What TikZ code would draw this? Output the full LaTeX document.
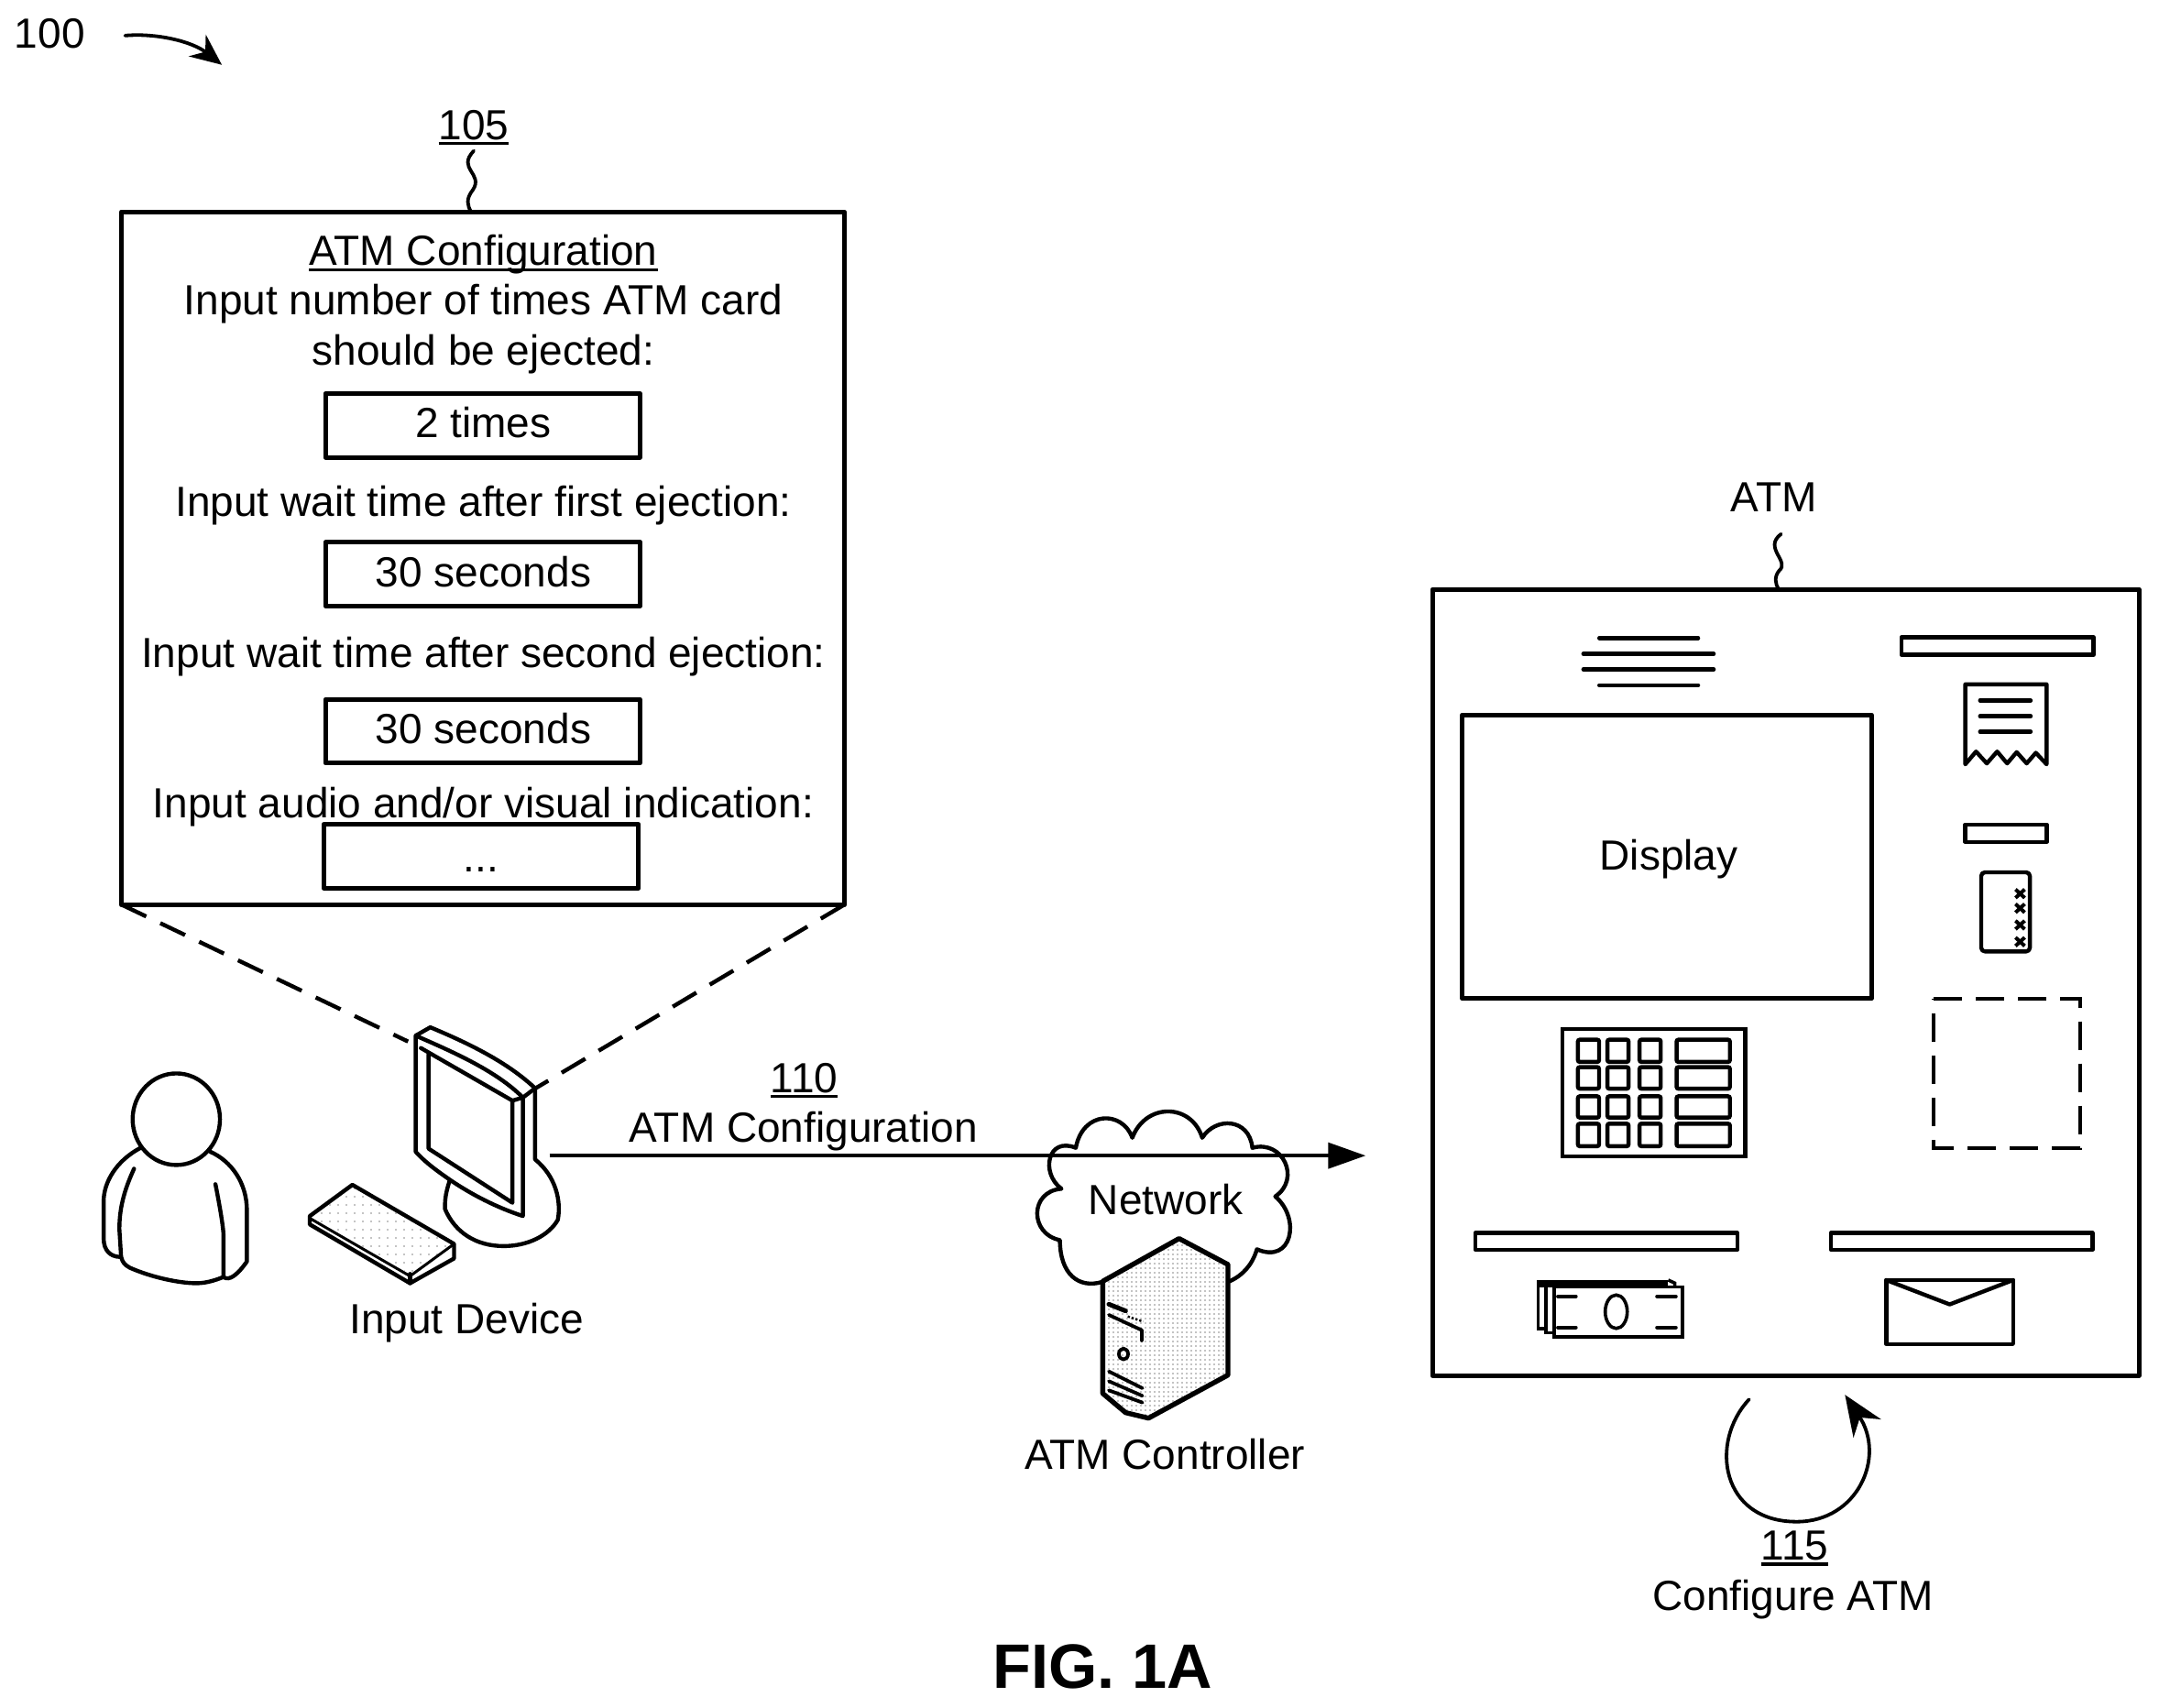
\documentclass[tikz,border=0pt]{standalone}
\usepackage{fontspec}
\setmainfont{Liberation Sans}
\usetikzlibrary{arrows.meta,patterns.meta}
\newcommand\ull[1]{\setbox0\hbox{#1}\rlap{\rule[-6pt]{\wd0}{3.2pt}}\box0}
\tikzset{
  lbl/.style={font=\fontsize{46}{50}\selectfont,inner sep=0pt,anchor=base},
  thick line/.style={line width=5pt,line join=round},
  med line/.style={line width=4.4pt,line join=round,line cap=round},
  thin line/.style={line width=3.8pt,line join=round,line cap=round},
  dash line/.style={line width=4.4pt,dash pattern=on 30pt off 17pt},
  stipple/.style={pattern={Dots[distance=5pt,radius=.7pt]}},
  sparse stipple/.style={pattern={Dots[distance=9pt,radius=.6pt]}},
  key/.style={rounded corners=2pt,line width=4.4pt}
}
\begin{document}
\begin{tikzpicture}[x=1pt,y=-1pt,scale=.9962]
\useasboundingbox (0,0) rectangle (2365,1871.1);
% top-left
\node[lbl] (n100) at (54.5,53) {100};
\coordinate (a100s) at (137,39);
\coordinate (a100e) at (243,71);
\draw[thin line,-{Stealth[length=34pt,width=30pt]}] (a100s) .. controls (170,36) and (210,45) .. (a100e);
% 105 box
\node[lbl] (n105) at (519,153) {\ull{105}};
\coordinate (box105) at (133,232);
\draw[thick line] (box105) rectangle (925,991);
\coordinate (boxtop) at (516,232);
\draw[thin line] (n105.south) ++(0,6) .. controls (500,185) and (530,190) .. (518,208) .. controls (510,218) and (512,225) .. (boxtop);
\node[lbl] (t0) at (529.5,291) {\ull{ATM Configuration}};
\node[lbl] (t1) at (529.5,345) {Input number of times ATM card};
\node[lbl] (t2) at (529.5,400) {should be ejected:};
\node[lbl] (t3) at (529.5,566) {Input wait time after first ejection:};
\node[lbl] (t4) at (529.5,731) {Input wait time after second ejection:};
\node[lbl] (t5) at (529.5,896) {Input audio and/or visual indication:};
\draw[thick line] (356.5,431) rectangle (701,501);
\draw[thick line] (356.5,594) rectangle (701,664);
\draw[thick line] (356.5,766) rectangle (701,836);
\draw[thick line] (354.5,903) rectangle (699.5,973);
\node[lbl] (v1) at (529.5,479) {2 times};
\node[lbl] (v2) at (529.5,643) {30 seconds};
\node[lbl] (v3) at (529.5,815) {30 seconds};
\node[lbl] (v4) at (527,955) {...};
% dashed
\coordinate (bl) at (133,991);
\coordinate (br) at (925,991);
\coordinate (ml) at (447,1141);
\coordinate (mr) at (587,1192);
\draw[dash line] (bl) -- (ml);
\draw[dash line] (br) -- (mr);
% person, keyboard, monitor
\begin{scope}[shift={(81,1082)},x=.3827pt,y=-.339pt]
 \draw[med line] (293,425) ellipse [x radius=125,y radius=148];
 \draw[med line] (190,518) .. controls (120,560) and (85,630) .. (85,690) -- (85,810) .. controls (85,850) and (105,870) .. (133,870);
 \draw[med line] (172,585) .. controls (150,640) and (130,700) .. (130,780) -- (135,870) .. controls (140,890) and (145,895) .. (160,905) .. controls (220,935) and (300,955) .. (350,955) .. controls (380,955) and (405,945) .. (428,935);
 \draw[med line] (405,635) .. controls (420,720) and (428,780) .. (428,800) -- (428,935) .. controls (445,950) and (470,925) .. (495,885) -- (495,720) .. controls (495,630) and (450,560) .. (390,530);
 % monitor
 \draw[med line] (1075,625) .. controls (1062,670) and (1062,690) .. (1062,715) .. controls (1090,790) and (1150,835) .. (1230,835) .. controls (1300,835) and (1360,800) .. (1385,750) .. controls (1395,690) and (1380,610) .. (1320,555) -- (1320,325) .. controls (1240,240) and (1130,180) .. (1020,128) -- (978,155) -- (978,530) .. controls (1010,570) and (1050,600) .. (1075,620) .. controls (1140,670) and (1210,710) .. (1285,738) -- (1285,355) .. controls (1210,270) and (1090,210) .. (978,155);
 \draw[med line] (1285,355) -- (1320,325);
 \draw[med line] (993,195) -- (1255,365) -- (1285,355);
 \draw[med line] (1255,365) -- (1255,695) -- (1015,520) -- (1015,215);
 % keyboard
 \fill[sparse stipple] (675,738) -- (797,637) -- (1088,828) -- (962,925) -- cycle;
 \draw[med line] (675,738) -- (797,637) -- (1088,828) -- (1088,875) -- (962,955) -- (675,765) -- cycle;
 \draw[line width=3pt,line join=round] (675,745) -- (962,932) -- (1088,828);
 \draw[med line] (962,925) -- (962,955);
\end{scope}
\node[lbl] (inp) at (511,1461) {Input Device};
% cloud
\begin{scope}[shift={(1114.2,1204.6)},x=.3346pt,y=-.3346pt]
 \draw[med line] (278,597) .. controls (200,620) and (140,570) .. (140,460)
   .. controls (40,440) and (40,300) .. (145,292)
   .. controls (75,240) and (100,120) .. (192,158)
   .. controls (215,35) and (345,35) .. (377,125)
   .. controls (420,10) and (570,10) .. (606,125)
   .. controls (650,55) and (760,60) .. (770,158)
   .. controls (870,130) and (930,260) .. (845,317)
   .. controls (930,390) and (900,540) .. (785,490)
   .. controls (770,540) and (740,575) .. (695,595);
\end{scope}
% server
\begin{scope}[shift={(1104.2,1184.5)},x=.3346pt,y=-.3346pt]
 \fill[white] (310,655) -- (560,515) -- (720,600) -- (720,962) -- (460,1103) -- (385,1085) -- (310,1022) -- cycle;
 \fill[stipple] (310,655) -- (560,515) -- (720,600) -- (720,962) -- (460,1103) -- (385,1085) -- (310,1022) -- cycle;
 \draw[line width=5.4pt,line join=round] (310,655) -- (560,515) -- (720,600) -- (720,962) -- (460,1103) -- (385,1085) -- (310,1022) -- cycle;
 \draw[line width=5pt,line cap=round] (330,730) -- (385,752);
 \draw[thin line] (330,765) -- (438,815) -- (438,850);
 \draw[line width=2.4pt,dotted] (392,770) -- (442,787);
 \draw[thin line] (378,893) ellipse [x radius=15,y radius=18];
 \draw[thin line] (330,950) -- (440,1005);
 \draw[thin line] (330,982) -- (440,1030);
 \draw[thin line] (330,1012) -- (440,1052);
\end{scope}
\node[lbl] (net) at (1277,1331) {Network};
\node[lbl] (ctl) at (1276,1610) {ATM Controller};
% arrow 110
\coordinate (arrs) at (602,1266);
\coordinate (arre) at (1496,1266);
\draw[line width=3.8pt,-{Triangle[length=41pt,width=28pt]}] (arrs) -- (arre);
\node[lbl] (n110) at (881,1197) {\ull{110}};
\node[lbl] (t110) at (880,1251) {ATM Configuration};
% ATM
\node[lbl] (natm) at (1943,561) {ATM};
\coordinate (atmtop) at (1948,645);
\draw[thin line] (1951,585) .. controls (1931,600) and (1961,615) .. (1949,625) .. controls (1943,632) and (1945,640) .. (atmtop);
\draw[thick line] (1569,645.5) rectangle (2343,1507);
\draw[thick line] (1602,783) rectangle (2050,1094);
\node[lbl] (disp) at (1828,953) {Display};
\begin{scope}[shift={(1682,664)},x=.4367pt,y=-.3333pt]
 \foreach \y/\a/\b in {105/160/408,157/120/447,208/120/447,260/160/408}
  \draw[line width=4.4pt,line cap=round] (\a,\y) -- (\b,\y);
 \draw[med line] (918,103) rectangle (1400,160);
 \draw[med line] (1078,520) -- (1078,257) -- (1282,257) -- (1282,520) -- (1255,482) -- (1232,517) -- (1207,480) -- (1183,517) -- (1158,478) -- (1132,517) -- (1105,478) -- cycle;
 \foreach \y in {310,362,413}
  \draw[line width=4.4pt,line cap=round] (1115,\y) -- (1242,\y);
 \draw[med line] (1078,718) rectangle (1282,775);
 \draw[med line,rounded corners=4pt] (1118,875) rectangle (1240,1135);
 \foreach \y in {945,993,1048,1103}{
  \draw[line width=4pt] (1204,\y-14) -- (1227,\y+14);
  \draw[line width=4pt] (1227,\y-14) -- (1204,\y+14);
 }
\end{scope}
\begin{scope}[shift={(1603,1065)},x=.4825pt,y=-.3333pt]
 \draw[line width=4.4pt,dash pattern=on 31pt off 15pt] (1068,88) -- (1400,88) -- (1400,578) -- (1068,578) -- cycle;
 \draw[line width=4.4pt] (225,187) rectangle (640,605);
 \foreach \ya/\yb in {222/295,312/383,408/478,498/572}{
  \foreach \xa/\xb in {260/308,327/375,400/448,484/605}
   \draw[key] (\xa,\ya) rectangle (\xb,\yb);
 }
 \draw[med line] (27,857) rectangle (622,912);
 \draw[med line] (834,857) rectangle (1428,912);
 % money
 \fill (170,1012) rectangle (465,1035);
 \draw[line width=3.6pt] (170,1012) -- (170,1172) -- (188,1172);
 \draw[line width=3.6pt] (188,1022) -- (188,1185) -- (206,1185);
 \draw[line width=3.6pt] (465,1012) -- (480,1022) -- (480,1035);
 \draw[line width=3.6pt,fill=white] (206,1035) rectangle (497,1198);
 \draw[line width=3.6pt] (347,1116) ellipse [x radius=25,y radius=55];
 \foreach \y in {1066,1168}{
  \draw[line width=4.4pt,line cap=round] (215,\y) -- (255,\y);
  \draw[line width=4.4pt,line cap=round] (440,\y) -- (482,\y);
 }
 % envelope
 \draw[med line] (960,1012) rectangle (1248,1222);
 \draw[med line] (960,1012) -- (1104,1092) -- (1248,1012);
\end{scope}
% configure arrow
\coordinate (cfgs) at (1916,1533);
\coordinate (cfge) at (2021,1528);
\draw[thin line,-{Stealth[length=44pt,width=36pt]}] (cfgs) .. controls (1872,1580) and (1885,1667) .. (1968,1667) .. controls (2035,1667) and (2066,1596) .. (cfge);
\node[lbl] (n115) at (1966,1709) {\ull{115}};
\node[lbl] (t115) at (1964,1764) {Configure ATM};
\node[font=\bfseries\fontsize{68.5}{72}\selectfont,inner sep=0pt,anchor=base] (fig) at (1208,1850) {FIG. 1A};
\end{tikzpicture}
\end{document}
